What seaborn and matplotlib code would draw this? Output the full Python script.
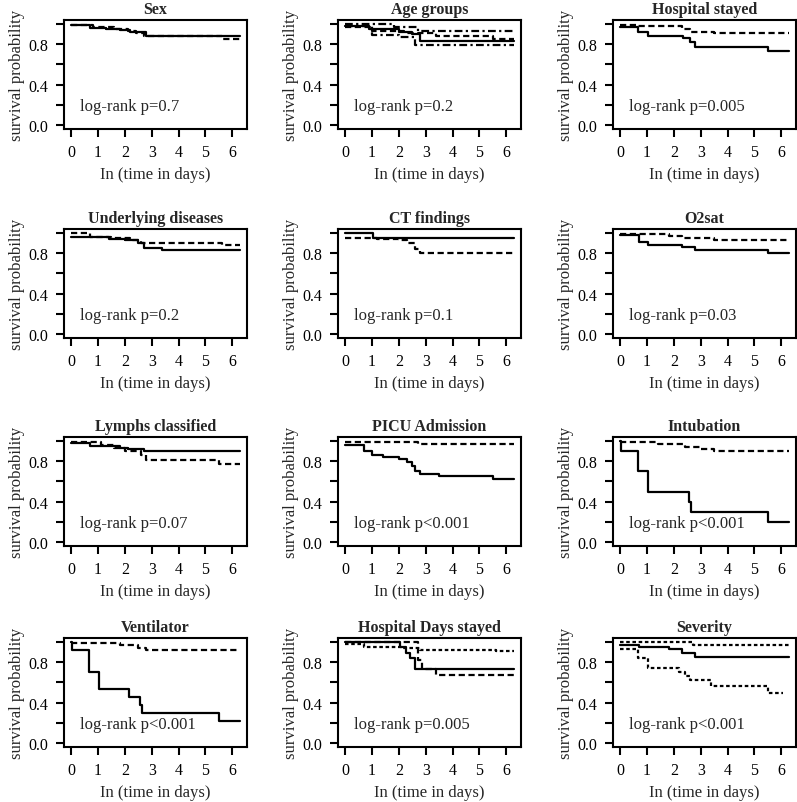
import numpy as np
import pandas as pd
import matplotlib
matplotlib.use("Agg")
import matplotlib.pyplot as plt
import seaborn as sns

sns.set_style("white")
plt.rcParams["font.family"] = ["Liberation Serif", "DejaVu Serif"]

# panel titles and log-rank labels
titles = ["Sex", "Age groups", "Hospital stayed",
          "Underlying diseases", "CT findings", "O2sat",
          "Lymphs classified", "PICU Admission", "Intubation",
          "Ventilator", "Hospital Days stayed", "Severity"]
pvals = ["log-rank p=0.7", "log-rank p=0.2", "log-rank p=0.005",
         "log-rank p=0.2", "log-rank p=0.1", "log-rank p=0.03",
         "log-rank p=0.07", "log-rank p<0.001", "log-rank p<0.001",
         "log-rank p<0.001", "log-rank p=0.005", "log-rank p<0.001"]

# survival curves (time in days, survival probability)
sex_a_t = [0, 0.7, 1.3, 1.8, 2.2, 2.8, 6.28]
sex_a_s = [0.99, 0.96, 0.95, 0.94, 0.92, 0.88, 0.88]
sex_b_t = [0, 0.8, 1.6, 2.1, 2.4, 2.7, 5.6, 6.28]
sex_b_s = [0.99, 0.97, 0.95, 0.93, 0.91, 0.88, 0.85, 0.85]

age_a_t = [0, 0.9, 2.0, 2.5, 2.8, 6.28]
age_a_s = [0.98, 0.95, 0.92, 0.90, 0.83, 0.83]
age_b_t = [0, 1.0, 2.2, 3.4, 5.5, 6.28]
age_b_s = [0.97, 0.93, 0.91, 0.88, 0.85, 0.85]
age_c_t = [0, 1.8, 2.7, 6.28]
age_c_s = [1.0, 0.97, 0.93, 0.93]
age_d_t = [0, 1.0, 2.0, 2.6, 6.28]
age_d_s = [0.98, 0.89, 0.87, 0.79, 0.79]

hosp_a_t = [0, 0.65, 1.05, 2.35, 2.6, 2.8, 5.5, 6.28]
hosp_a_s = [0.97, 0.92, 0.88, 0.86, 0.82, 0.77, 0.73, 0.73]
hosp_b_t = [0, 0.6, 2.3, 2.6, 3.5, 6.28]
hosp_b_s = [0.99, 0.98, 0.95, 0.92, 0.91, 0.91]

und_a_t = [0, 1.4, 2.0, 2.5, 2.7, 3.4, 6.28]
und_a_s = [0.96, 0.94, 0.93, 0.90, 0.85, 0.83, 0.83]
und_b_t = [0, 0.7, 1.5, 2.2, 2.6, 5.6, 6.28]
und_b_s = [1.0, 0.96, 0.95, 0.93, 0.90, 0.88, 0.88]

ct_a_t = [0, 1.05, 6.28]
ct_a_s = [1.0, 0.95, 0.95]
ct_b_t = [0, 1.2, 2.0, 2.3, 2.6, 2.8, 6.28]
ct_b_s = [0.95, 0.94, 0.93, 0.90, 0.84, 0.80, 0.80]

o2_a_t = [0, 0.7, 1.05, 2.3, 2.8, 5.5, 6.28]
o2_a_s = [0.98, 0.91, 0.88, 0.86, 0.83, 0.80, 0.80]
o2_b_t = [0, 1.8, 2.3, 3.5, 6.28]
o2_b_s = [0.99, 0.97, 0.95, 0.93, 0.93]

lym_a_t = [0, 0.7, 1.8, 2.1, 2.7, 6.28]
lym_a_s = [0.98, 0.95, 0.93, 0.92, 0.90, 0.90]
lym_b_t = [0, 1.1, 1.6, 2.0, 2.6, 2.8, 5.5, 6.28]
lym_b_s = [0.99, 0.96, 0.93, 0.90, 0.86, 0.81, 0.77, 0.77]

picu_a_t = [0, 0.7, 1.0, 1.4, 2.0, 2.3, 2.5, 2.6, 2.8, 3.5, 5.5, 6.28]
picu_a_s = [0.96, 0.90, 0.86, 0.84, 0.82, 0.79, 0.75, 0.70, 0.67, 0.65, 0.62, 0.62]
picu_b_t = [0, 2.7, 6.28]
picu_b_s = [0.99, 0.97, 0.97]

intu_a_t = [0, 0.03, 0.65, 1.05, 2.55, 2.65, 5.5, 6.28]
intu_a_s = [1.0, 0.90, 0.70, 0.50, 0.40, 0.30, 0.20, 0.20]
intu_b_t = [0, 1.4, 2.4, 3.0, 3.5, 6.28]
intu_b_s = [0.99, 0.97, 0.94, 0.92, 0.90, 0.90]

vent_a_t = [0, 0.03, 0.67, 1.04, 2.15, 2.55, 2.65, 5.5, 6.28]
vent_a_s = [1.0, 0.92, 0.70, 0.53, 0.46, 0.38, 0.30, 0.22, 0.22]
vent_b_t = [0, 1.8, 2.5, 2.8, 6.28]
vent_b_s = [0.99, 0.97, 0.94, 0.92, 0.92]

days_a_t = [0, 2.05, 2.25, 2.4, 2.6, 6.28]
days_a_s = [1.0, 0.95, 0.89, 0.84, 0.73, 0.73]
days_b_t = [0, 2.7, 2.85, 3.4, 6.28]
days_b_s = [1.0, 0.82, 0.73, 0.67, 0.67]
days_c_t = [0, 0.7, 2.1, 2.8, 5.6, 6.28]
days_c_s = [0.98, 0.95, 0.94, 0.92, 0.91, 0.91]

sev_a_t = [0, 0.7, 1.8, 2.3, 2.8, 6.28]
sev_a_s = [0.97, 0.95, 0.93, 0.89, 0.85, 0.85]
sev_b_t = [0, 2.7, 6.28]
sev_b_s = [1.0, 0.97, 0.97]
sev_c_t = [0, 0.65, 1.05, 2.2, 2.4, 2.6, 3.4, 5.5, 6.05]
sev_c_s = [0.93, 0.84, 0.74, 0.70, 0.66, 0.62, 0.56, 0.50, 0.50]

solid = ""
dashed = (2.8, 1.6)
dotted = (1.6, 1.2)
dotdash = (3.5, 1.5, 1.0, 1.5)

curves = [
    [(sex_a_t, sex_a_s, solid), (sex_b_t, sex_b_s, dashed)],
    [(age_a_t, age_a_s, solid), (age_b_t, age_b_s, dashed),
     (age_c_t, age_c_s, dotdash), (age_d_t, age_d_s, dotdash)],
    [(hosp_a_t, hosp_a_s, solid), (hosp_b_t, hosp_b_s, dashed)],
    [(und_a_t, und_a_s, solid), (und_b_t, und_b_s, dashed)],
    [(ct_a_t, ct_a_s, solid), (ct_b_t, ct_b_s, dashed)],
    [(o2_a_t, o2_a_s, solid), (o2_b_t, o2_b_s, dashed)],
    [(lym_a_t, lym_a_s, solid), (lym_b_t, lym_b_s, dashed)],
    [(picu_a_t, picu_a_s, solid), (picu_b_t, picu_b_s, dashed)],
    [(intu_a_t, intu_a_s, solid), (intu_b_t, intu_b_s, dashed)],
    [(vent_a_t, vent_a_s, solid), (vent_b_t, vent_b_s, dashed)],
    [(days_a_t, days_a_s, solid), (days_b_t, days_b_s, dashed),
     (days_c_t, days_c_s, dotted)],
    [(sev_a_t, sev_a_s, solid), (sev_b_t, sev_b_s, dotted),
     (sev_c_t, sev_c_s, dotted)],
]

W, H = 797, 803
fig = plt.figure(figsize=(W / 100, H / 100), dpi=100)

col_left = [64, 338, 613]
row_bottom = [130, 339, 547, 748]
aw, ah = 183, 109

for i, title in enumerate(titles):
    r, c = divmod(i, 3)
    ax = fig.add_axes([col_left[c] / W, (H - row_bottom[r]) / H, aw / W, ah / H])
    rows = []
    dash_map = {}
    for k, (t, s, d) in enumerate(curves[i]):
        g = "g%d" % k
        dash_map[g] = d
        rows.append(pd.DataFrame({"time": t, "surv": s, "group": g}))
    df = pd.concat(rows, ignore_index=True)
    sns.lineplot(data=df, x="time", y="surv", style="group", dashes=dash_map,
                 color="black", linewidth=1.6, drawstyle="steps-post",
                 estimator=None, sort=False, legend=False, ax=ax)
    ax.set_xlim(-0.27, 6.55)
    ax.set_ylim(-0.04, 1.04)
    ax.set_xticks(range(7))
    ax.set_yticks([0, 0.2, 0.4, 0.6, 0.8, 1.0])
    ax.set_yticklabels(["0.0", "", "0.4", "", "0.8", ""])
    ax.tick_params(direction="out", length=6, width=1.5, labelsize=11.5,
                   left=True, bottom=True, colors="black")
    ax.tick_params(axis="x", pad=5)
    ax.tick_params(axis="y", pad=5)
    for sp in ax.spines.values():
        sp.set_visible(True)
        sp.set_color("black")
        sp.set_linewidth(1.5)
    ax.set_title(title, fontsize=11.5, fontweight="bold", pad=5)
    ax.set_xlabel("In (time in days)", fontsize=12, labelpad=4)
    ax.set_ylabel("survival probability", fontsize=12, labelpad=3)
    ax.text(0.33, 0.19, pvals[i], fontsize=12, ha="left", va="center")

fig.savefig("out.png", dpi=100)
